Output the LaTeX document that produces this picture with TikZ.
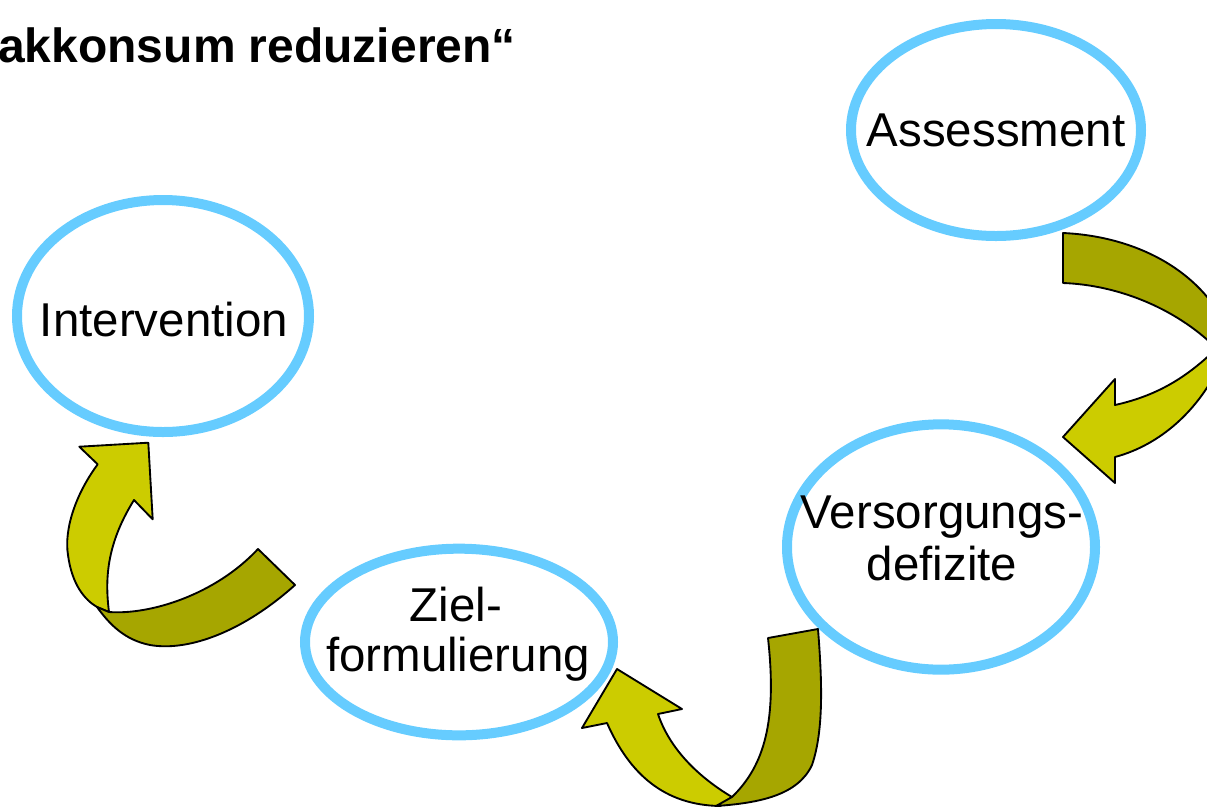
\documentclass[tikz,border=0pt]{standalone}
\usepackage{fontspec}
\setmainfont{Liberation Sans}
\usetikzlibrary{shapes.geometric}
\definecolor{ringblue}{HTML}{66CCFF}
\definecolor{olivedark}{HTML}{A6A600}
\definecolor{olivelight}{HTML}{CCCC00}
\tikzset{
  ring/.style={ellipse, draw=ringblue, line width=7.5pt, inner sep=0pt},
  label/.style={anchor=base, inner sep=0pt, font=\fontsize{35.6}{37.5}\selectfont},
  backface/.style={fill=olivedark, draw=black, line width=1.4pt, line join=round},
  frontface/.style={fill=olivelight, draw=black, line width=1.4pt, line join=round}
}
\begin{document}
\begin{tikzpicture}[x=0.75pt,y=-0.75pt]
\useasboundingbox (0,0) rectangle (1207,808);
\clip (0,0) rectangle (1207,808);

% heading, running in from the left edge
\node[anchor=base west, inner sep=0pt, font=\fontsize{36}{40}\selectfont\bfseries] (title) at (-2,62) {akkonsum reduzieren“};

% the four stages (sizes in pt: 1 unit = 0.75pt)
\node[ring, minimum width=217.5pt, minimum height=159pt] (assess) at (996,130) {};
\node[ring, minimum width=219pt, minimum height=174pt] (interv) at (163,316) {};
\node[ring, minimum width=231pt, minimum height=184pt] (defiz) at (941,547) {};
\node[ring, minimum width=231pt, minimum height=140pt] (ziel) at (459,642) {};

\node[label] (tassess) at (996,146) {Assessment};
\node[label] (tinterv) at (164,336) {Intervention};
\node[label] (tdefiz1) at (942,528) {Versorgungs-};
\node[label] (tdefiz2) at (942,580) {defizite};
\node[label] (tziel1) at (456,621) {Ziel-};
\node[label] (tziel2) at (458,671) {formulierung};

% curved arrow: Assessment -> Versorgungsdefizite
\draw[frontface] (1220,345) .. controls (1190,375) and (1160,395) .. (1115,405)
  -- (1115,379) -- (1063,437) -- (1115,483) -- (1115,457)
  .. controls (1160,445) and (1200,410) .. (1222,360) -- cycle;
\draw[backface] (1063,233) .. controls (1130,236) and (1190,265) .. (1220,315)
  -- (1220,352) .. controls (1180,310) and (1120,285) .. (1063,283) -- cycle;

% curved arrow: Versorgungsdefizite -> Zielformulierung
\draw[frontface] (658,714) -- (682,709) -- (617,669) -- (582,728) -- (607,723)
  .. controls (630,775) and (665,805) .. (720,806)
  -- (732,797) .. controls (700,778) and (670,750) .. (658,714) -- cycle;
\draw[backface] (768,638) -- (818,629)
  .. controls (822,680) and (824,730) .. (812,765)
  .. controls (798,795) and (760,803) .. (716,806)
  -- (732,797) .. controls (765,765) and (777,720) .. (768,638) -- cycle;

% curved arrow: Zielformulierung -> Intervention
\draw[frontface] (134,500) -- (152.7,519.3) -- (148.3,442.7) -- (79.3,446.7) -- (97.7,464.3)
  .. controls (75,495) and (64,530) .. (68,555)
  .. controls (72,585) and (85,600) .. (97,607)
  -- (109,612) .. controls (105,580) and (106,545) .. (134,500) -- cycle;
\draw[backface] (109,612) .. controls (150,615) and (215,595) .. (258,549)
  -- (295,585) .. controls (245,630) and (190,652) .. (150,645)
  .. controls (125,640) and (110,625) .. (97,607) -- cycle;
\end{tikzpicture}
\end{document}
